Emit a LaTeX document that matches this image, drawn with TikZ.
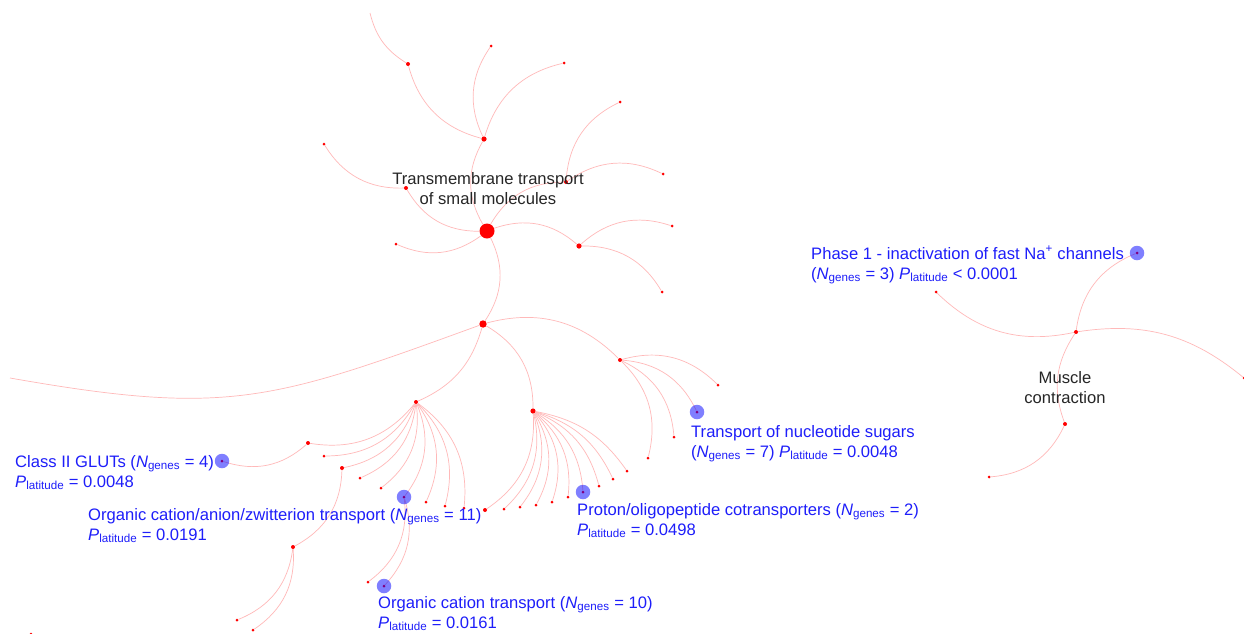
\documentclass[tikz,border=0pt]{standalone}
\usepackage{fontspec}
\setmainfont{Liberation Sans}
\definecolor{nwred}{RGB}{255,0,0}
\definecolor{nwedge}{RGB}{255,185,185}
\definecolor{nwblue}{RGB}{30,30,250}
\definecolor{nwhalo}{RGB}{0,0,255}
\usetikzlibrary{positioning}
\newcommand{\Ngenes}{\textit{N}\textsubscript{genes}}
\newcommand{\Plat}{\textit{P}\textsubscript{latitude}}

\begin{document}
\begin{tikzpicture}[
  x=1pt,y=-1pt,
  every node/.style={inner sep=0pt},
  edge/.style={draw=nwedge,line width=0.7pt,bend left=30},
  hubdot/.style={circle,fill=nwred,minimum size=15pt},
  bigdot/.style={circle,fill=nwred,minimum size=7.4pt},
  middot/.style={circle,fill=nwred,minimum size=5.2pt},
  smalldot/.style={circle,fill=nwred,minimum size=4pt},
  leafdot/.style={circle,fill=nwred,minimum size=3pt},
  halo/.style={circle,fill=nwhalo,fill opacity=0.5,minimum size=14.5pt},
  bluelbl/.style={font=\fontsize{16.6}{20}\selectfont,text=nwblue,align=left,anchor=north west},
  blacklbl/.style={font=\fontsize{16.6}{20}\selectfont,text=black!85,align=center,anchor=north},
]
  \useasboundingbox (0,0) rectangle (1244,633);
  \fill[white] (0,0) rectangle (1244,633);
  % Transmembrane transport tree
  \node[hubdot] (hub) at (487,231) {};
  \node[middot] (up) at (484,139) {};
  \node[smalldot] (upLeft) at (408,64) {};
  \coordinate (topEnd) at (370,13);
  \node[leafdot] (upA) at (491,46) {};
  \node[leafdot] (upB) at (564,63) {};
  \node[smalldot] (ne) at (566,182) {};
  \node[leafdot] (neA) at (620,102) {};
  \node[leafdot] (neB) at (663,174) {};
  \node[smalldot] (nw) at (406,188) {};
  \node[leafdot] (nwA) at (324,144) {};
  \node[leafdot] (west) at (396,244) {};
  \node[middot] (east) at (579,246) {};
  \node[leafdot] (eastA) at (672,226) {};
  \node[leafdot] (eastB) at (662,292) {};
  \node[bigdot] (down) at (483,324) {};
  \coordinate (leftEnd) at (10,378);
  \node[smalldot] (sw) at (416,402) {};
  \node[middot] (s) at (533,411) {};
  \node[smalldot] (se) at (620,360) {};
  % south-west fan
  \node[smalldot] (swA) at (308,443) {};
  \node[leafdot] (swB) at (324,456) {};
  \node[smalldot] (swC) at (342,468) {};
  \node[leafdot] (swD) at (360,478) {};
  \node[leafdot] (swE) at (381,488) {};
  \node[leafdot] (ocaz) at (404,497) {};
  \node[leafdot] (swG) at (426,502) {};
  \node[leafdot] (swH) at (445,506) {};
  \node[leafdot] (swI) at (464,508) {};
  \node[leafdot] (glut) at (222,461) {};
  \node[smalldot] (swCC) at (293,547) {};
  \node[leafdot] (swCA) at (237,620) {};
  \node[leafdot] (swCB) at (253,630) {};
  \node[leafdot] (ocazA) at (368,582) {};
  \node[leafdot] (oct) at (384,586) {};
  \node[leafdot] (corner) at (31,634) {};
  % south fan
  \node[leafdot] (sA) at (627,471) {};
  \node[leafdot] (sB) at (613,479) {};
  \node[leafdot] (sC) at (599,486) {};
  \node[leafdot] (prot) at (583,492) {};
  \node[leafdot] (sE) at (568,497) {};
  \node[leafdot] (sF) at (552,502) {};
  \node[leafdot] (sG) at (536,505) {};
  \node[leafdot] (sH) at (520,507) {};
  \node[leafdot] (sI) at (504,509) {};
  \node[smalldot] (sJ) at (485,510) {};
  % south-east fan
  \node[leafdot] (seA) at (718,385) {};
  \node[leafdot] (nuc) at (697,412) {};
  \node[leafdot] (seC) at (674,437) {};
  \node[leafdot] (seD) at (648,458) {};
  % Muscle contraction tree
  \node[smalldot] (muscle) at (1065,424) {};
  \node[smalldot] (mHub) at (1076,332) {};
  \node[leafdot] (mLow) at (989,477) {};
  \node[leafdot] (phase) at (1137,253) {};
  \node[leafdot] (mWest) at (936,292) {};
  \node[leafdot] (mEast) at (1244,378) {};
  % Links
  \draw[edge] (hub) to (up);
  \draw[edge] (hub) to (ne);
  \draw[edge] (hub) to (nw);
  \draw[edge] (hub) to (west);
  \draw[edge] (hub) to (east);
  \draw[edge] (hub) to (down);
  \draw[edge] (up) to (upLeft);
  \draw[edge] (up) to (upA);
  \draw[edge] (up) to (upB);
  \draw[edge,bend left=22] (upLeft) to (topEnd);
  \draw[edge] (ne) to (neA);
  \draw[edge] (ne) to (neB);
  \draw[edge] (nw) to (nwA);
  \draw[edge] (east) to (eastA);
  \draw[edge] (east) to (eastB);
  \draw[draw=nwedge,line width=0.7pt] (down) to[out=200,in=-10,looseness=1.2] (leftEnd);
  \draw[edge,bend left=25] (down) to (sw);
  \draw[edge] (down) to (s);
  \draw[edge] (down) to (se);
  \draw[edge] (sw) to (swA);
  \draw[edge] (sw) to (swB);
  \draw[edge] (sw) to (swC);
  \draw[edge] (sw) to (swD);
  \draw[edge] (sw) to (swE);
  \draw[edge] (sw) to (ocaz);
  \draw[edge] (sw) to (swG);
  \draw[edge] (sw) to (swH);
  \draw[edge] (sw) to (swI);
  \draw[edge] (swA) to (glut);
  \draw[edge] (swC) to (swCC);
  \draw[edge] (swCC) to (swCA);
  \draw[edge] (swCC) to (swCB);
  \draw[edge] (ocaz) to (ocazA);
  \draw[edge] (ocaz) to (oct);
  \draw[edge,bend left=22] (s) to (sA);
  \draw[edge,bend left=24] (s) to (sB);
  \draw[edge,bend left=26] (s) to (sC);
  \draw[edge,bend left=27] (s) to (prot);
  \draw[edge,bend left=28] (s) to (sE);
  \draw[edge] (s) to (sF);
  \draw[edge] (s) to (sG);
  \draw[edge] (s) to (sH);
  \draw[edge] (s) to (sI);
  \draw[edge] (s) to (sJ);
  \draw[edge] (se) to (seA);
  \draw[edge] (se) to (nuc);
  \draw[edge] (se) to (seC);
  \draw[edge] (se) to (seD);
  \draw[edge,bend left=27] (muscle) to (mHub);
  \draw[edge] (muscle) to (mLow);
  \draw[edge] (mHub) to (phase);
  \draw[edge,bend left=28] (mHub) to (mWest);
  \draw[edge,bend left=24] (mHub) to (mEast);
  % Highlighted pathways
  \node[halo] (glutHalo) at (glut) {};
  \node[halo] (ocazHalo) at (ocaz) {};
  \node[halo] (octHalo) at (oct) {};
  \node[halo] (protHalo) at (prot) {};
  \node[halo] (nucHalo) at (nuc) {};
  \node[halo] (phaseHalo) at (phase) {};
  % Labels
  \node[blacklbl] (tmLbl) at (488,172) {Transmembrane transport\\of small molecules};
  \node[blacklbl] (muscleLbl) at (1065,371) {Muscle\\contraction};
  \node[bluelbl] (glutLbl) at (15,455) {Class II GLUTs (\Ngenes{} = 4)\\\Plat{} = 0.0048};
  \node[bluelbl] (ocazLbl) at (88,508) {Organic cation/anion/zwitterion transport (\Ngenes{} = 11)\\\Plat{} = 0.0191};
  \node[bluelbl] (octLbl) at (378,596) {Organic cation transport (\Ngenes{} = 10)\\\Plat{} = 0.0161};
  \node[bluelbl] (protLbl) at (577,503) {Proton/oligopeptide cotransporters (\Ngenes{} = 2)\\\Plat{} = 0.0498};
  \node[bluelbl] (nucLbl) at (691,425) {Transport of nucleotide sugars\\(\Ngenes{} = 7) \Plat{} = 0.0048};
  \node[bluelbl] (phaseLbl) at (811,246) {Phase 1 - inactivation of fast Na\textsuperscript{+} channels\\(\Ngenes{} = 3) \Plat{} < 0.0001};
\end{tikzpicture}
\end{document}
